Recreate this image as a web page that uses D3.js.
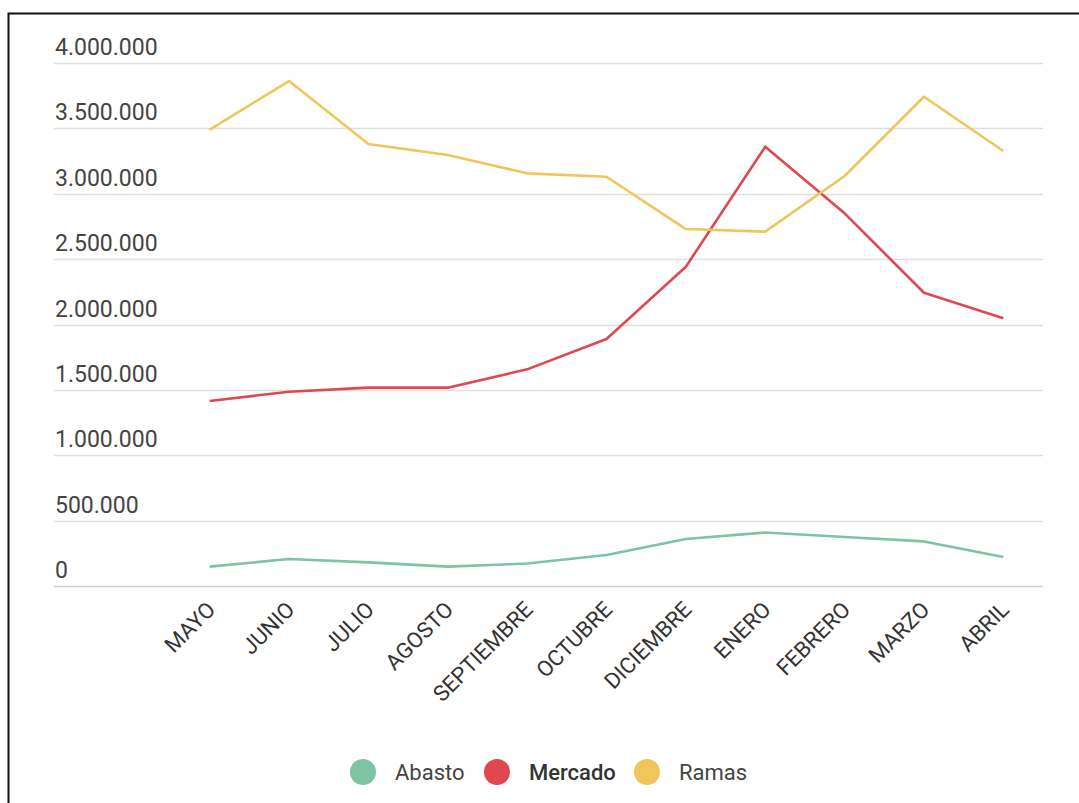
<!DOCTYPE html>
<html>
<head>
<meta charset="utf-8">
<script src="https://cdn.jsdelivr.net/npm/d3@7"></script>
<style>
  body { margin: 0; background: #fff; }
  svg text { font-family: Roboto, "Noto Sans", sans-serif; }
</style>
</head>
<body>
<svg id="chart" width="1079" height="803"></svg>
<script>
var months = ["MAYO", "JUNIO", "JULIO", "AGOSTO", "SEPTIEMBRE", "OCTUBRE",
  "DICIEMBRE", "ENERO", "FEBRERO", "MARZO", "ABRIL"];

var abasto = [148000, 206000, 181000, 148000, 172000, 237000, 360000, 409000, 375000, 341000, 222000];
var mercado = [1415000, 1486000, 1517000, 1517000, 1657000, 1889000, 2442000, 3360000, 2850000, 2243000, 2047000];
var ramas = [3490000, 3862000, 3380000, 3296000, 3156000, 3130000, 2730000, 2710000, 3136000, 3742000, 3327000];

var yTicks = [0, 500000, 1000000, 1500000, 2000000, 2500000, 3000000, 3500000, 4000000];

var seriesNames = ["Abasto", "Mercado", "Ramas"];
var seriesColors = ["#7cc4a2", "#e0474f", "#f0c65a"];

var svg = d3.select("#chart");

// outer frame (runs off the right/bottom edge like the screenshot)
svg.append("rect")
  .attr("x", 8.5).attr("y", 13.5)
  .attr("width", 1100).attr("height", 830)
  .attr("fill", "none")
  .attr("stroke", "#111")
  .attr("stroke-width", 2);

var gridLeft = 54, plotLeft = 170, plotRight = 1043;

var x = d3.scalePoint()
  .domain(months)
  .range([plotLeft, plotRight])
  .padding(0.5);

var y = d3.scaleLinear()
  .domain([0, 4000000])
  .range([586, 63]);

var fmt = d3.formatLocale({ decimal: ",", thousands: ".", grouping: [3], currency: ["", ""] }).format(",d");

// gridlines + y labels
var grid = svg.append("g").attr("class", "grid");
grid.selectAll("line")
  .data(yTicks)
  .enter().append("line")
  .attr("x1", gridLeft)
  .attr("x2", plotRight)
  .attr("y1", function (d) { return Math.round(y(d)) + 0.5; })
  .attr("y2", function (d) { return Math.round(y(d)) + 0.5; })
  .attr("stroke", function (d) { return d === 0 ? "#cfcfcf" : "#dedede"; })
  .attr("stroke-width", 1.5);

grid.selectAll("text")
  .data(yTicks)
  .enter().append("text")
  .attr("x", gridLeft + 1)
  .attr("y", function (d) { return y(d) - 8; })
  .attr("font-size", 23)
  .attr("fill", "#444")
  .text(function (d) { return fmt(d); });

// x labels, rotated
svg.append("g")
  .selectAll("text")
  .data(months)
  .enter().append("text")
  .attr("transform", function (d) {
    return "translate(" + (x(d) + 7) + "," + 611 + ") rotate(-45)";
  })
  .attr("text-anchor", "end")
  .attr("font-size", 22)
  .attr("fill", "#333")
  .text(function (d) { return d; });

// lines
var line = d3.line()
  .x(function (d, i) { return x(months[i]); })
  .y(function (d) { return y(d); });

var allSeries = [abasto, mercado, ramas];
svg.append("g")
  .selectAll("path")
  .data(allSeries)
  .enter().append("path")
  .attr("d", line)
  .attr("fill", "none")
  .attr("stroke", function (d, i) { return seriesColors[i]; })
  .attr("stroke-width", 2.6)
  .attr("stroke-linejoin", "round");

// legend
var legendX = [363, 497, 647];
var legend = svg.append("g")
  .selectAll("g")
  .data(seriesNames)
  .enter().append("g")
  .attr("transform", function (d, i) { return "translate(" + legendX[i] + ",772)"; });

legend.append("circle")
  .attr("r", 13)
  .attr("fill", function (d, i) { return seriesColors[i]; });

legend.append("text")
  .attr("x", 32)
  .attr("y", 8)
  .attr("font-size", 22)
  .attr("font-weight", function (d) { return d === "Mercado" ? 500 : 400; })
  .attr("fill", function (d) { return d === "Mercado" ? "#333" : "#444"; })
  .text(function (d) { return d; });
</script>
</body>
</html>
